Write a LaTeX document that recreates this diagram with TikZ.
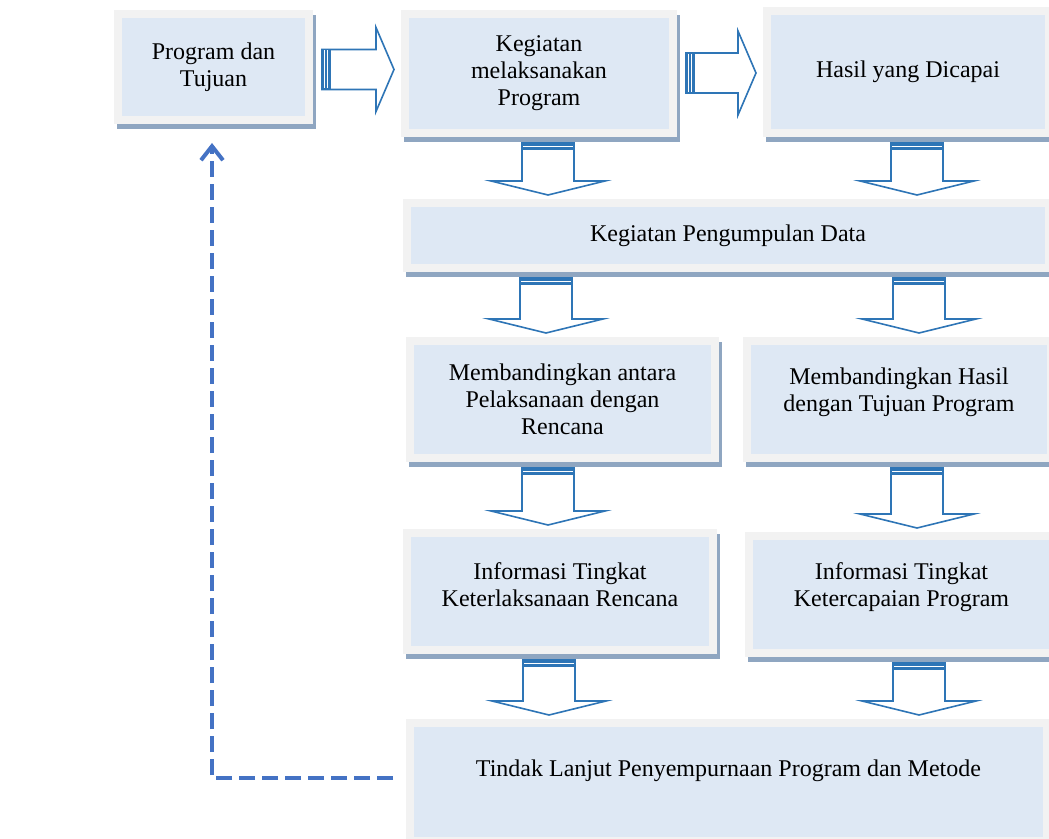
\documentclass[tikz,border=0pt]{standalone}
\usepackage{fontspec}
\setmainfont{Liberation Serif}
\usetikzlibrary{calc}
\usetikzlibrary{shadows}
\usetikzlibrary{arrows.meta}

\definecolor{boxfill}{HTML}{DEE8F4}
\definecolor{boxframe}{HTML}{F2F2F2}
\definecolor{boxshade}{HTML}{8FA6C1}
\definecolor{arrblue}{HTML}{2E75B6}
\definecolor{dashblue}{HTML}{4472C4}

\tikzset{
	stage/.style={rectangle, draw=boxframe, line width=4pt, fill=boxfill, align=center,
		font=\fontsize{12}{13.5}\selectfont,
		drop shadow={shadow xshift=1.5pt, shadow yshift=-2.5pt, fill=boxshade, draw=boxshade, line width=4pt, opacity=1}},
	blk/.style={draw=arrblue, line width=0.8pt, fill=white, line join=miter},
}

% block arrow downwards: x, upper node, lower node
\newcommand{\blkdown}[3]{%
	\path (#1,0 |- #2.south) coordinate (t0) (#1,0 |- #3.north) coordinate (h0);
	\coordinate (t) at ($(t0)+(0,6)$);
	\coordinate (h) at ($(h0)+(0,-4)$);
	\draw[blk] ($(t)+(-26,0)$) -- ($(h)+(-26,-14)$) -- ($(h)+(-57,-14)$) -- (h)
		-- ($(h)+(57,-14)$) -- ($(h)+(26,-14)$) -- ($(t)+(26,0)$) -- cycle;
	\fill[arrblue] ($(t)+(-26.4,0)$) rectangle ($(t)+(26.4,7)$);
	\draw[white, line width=0.6pt] ($(t)+(-25,3.6)$) -- ($(t)+(25,3.6)$);
}
% block arrow to the right: left node, right node, y
\newcommand{\blkright}[3]{%
	\path (#1.east |- 0,#3) coordinate (t0) (#2.west |- 0,#3) coordinate (h0);
	\coordinate (t) at ($(t0)+(9,0)$);
	\coordinate (h) at ($(h0)+(-7,0)$);
	\draw[blk] ($(t)+(0,-20)$) -- ($(h)+(-18,-20)$) -- ($(h)+(-18,-42)$) -- (h)
		-- ($(h)+(-18,42)$) -- ($(h)+(-18,20)$) -- ($(t)+(0,20)$) -- cycle;
	\fill[arrblue] ($(t)+(0,-20.4)$) rectangle ($(t)+(9,20.4)$);
	\draw[white, line width=0.5pt] ($(t)+(2.5,-19)$) -- ($(t)+(2.5,19)$);
	\draw[white, line width=0.6pt] ($(t)+(5.8,-19)$) -- ($(t)+(5.8,19)$);
}

\begin{document}
\begin{tikzpicture}[x=0.5pt, y=-0.5pt]
	\useasboundingbox (0,0) rectangle (1049,839);

	% first row
	\node[stage, minimum width=95.5pt, minimum height=53pt] (b1) at (213.5,67) {Program dan\\Tujuan};
	\node[stage, minimum width=134pt, minimum height=59.5pt] (b2) at (539,73.5) {Kegiatan\\melaksanakan\\Program};
	\node[stage, minimum width=141pt, minimum height=61pt] (b3) at (908,72) {Hasil yang Dicapai};
	% data
	\node[stage, minimum width=321pt, minimum height=32.5pt] (b4) at (728,235.5) {Kegiatan Pengumpulan Data};
	% compare
	\node[stage, minimum width=152.5pt, minimum height=58.5pt] (b5) at (562.5,399.5) {Membandingkan antara\\Pelaksanaan dengan\\Rencana};
	\node[stage, minimum width=152pt, minimum height=58.5pt] (b6) at (899,399.5) {Membandingkan Hasil\\dengan Tujuan Program\\[-4pt]\mbox{}};
	% information
	\node[stage, minimum width=153pt, minimum height=58.5pt] (b7) at (560,591.5) {Informasi Tingkat\\Keterlaksanaan Rencana\\[-6.5pt]\mbox{}};
	\node[stage, minimum width=152.5pt, minimum height=58.5pt] (b8) at (901.5,594.5) {Informasi Tingkat\\Ketercapaian Program\\[-4pt]\mbox{}};
	% follow up
	\node[stage, minimum width=318.5pt, minimum height=59pt] (b9) at (728.5,782) {Tindak Lanjut Penyempurnaan Program dan Metode\\[0.5pt]\mbox{}};

	\blkright{b1}{b2}{69.5}
	\blkright{b2}{b3}{73}

	\blkdown{548}{b2}{b4}
	\blkdown{917}{b3}{b4}
	\blkdown{546}{b4}{b5}
	\blkdown{919}{b4}{b6}
	\blkdown{548}{b5}{b7}
	\blkdown{917}{b6}{b8}
	\blkdown{549}{b7}{b9}
	\blkdown{919}{b8}{b9}

	% feedback
	\draw[dashblue, line width=2pt, dash pattern=on 8pt off 3.5pt, shorten <=6.5pt, shorten >=9.5pt,
		-{Straight Barb[length=7pt, width=11pt, line width=2pt]}]
		([yshift=2pt]b9.west) -| ([xshift=-0.75pt]b1.south);
\end{tikzpicture}
\end{document}
